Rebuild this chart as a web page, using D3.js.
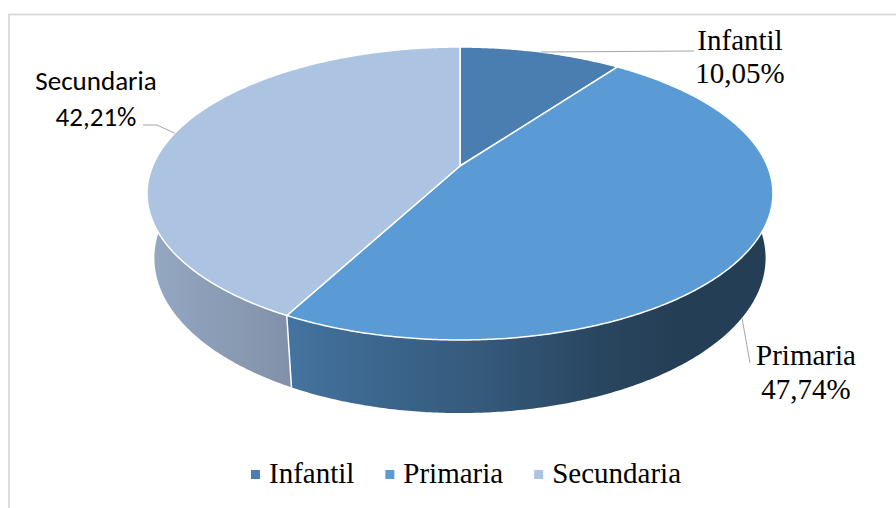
<!DOCTYPE html>
<html>
<head>
<meta charset="utf-8">
<script src="https://cdn.jsdelivr.net/npm/d3@7"></script>
<style>
  html, body { margin: 0; padding: 0; background: #fff; }
  svg { display: block; }
  .serif { font-family: 'Liberation Serif', 'Times New Roman', serif; }
  .sans { font-family: Carlito, Calibri, Lato, 'Liberation Sans', sans-serif; }
</style>
</head>
<body>
<svg id="chart" width="896" height="508"></svg>
<script>
const categories = ['Infantil', 'Primaria', 'Secundaria'];
const values = [10.05, 47.74, 42.21];
const valueLabels = ['10,05%', '47,74%', '42,21%'];
const colors = ['#4a7eb0', '#5b9bd5', '#adc3e2'];

const width = 896;
const height = 508;

// perspective pie geometry (camera distance normalised to 1)
const cx = 460, cy = 166;
const F = 1454;         // focal length in px
const r = 0.2114;       // pie radius / camera distance
const h = 0.0504;       // pie thickness / camera distance
const tilt = 27.37 * Math.PI / 180;
const sinT = Math.sin(tilt), cosT = Math.cos(tilt);

const project = (theta, rf, bottom) => {
  const X = r * rf * Math.sin(theta);
  const Z = -r * rf * Math.cos(theta);
  const Y = bottom ? -h : 0;
  const depth = 1 - Y * sinT - Z * cosT;
  return [cx + F * X / depth, cy - F * (Y * cosT - Z * sinT) / depth];
};

const steps = (a0, a1) => {
  const n = Math.max(2, Math.ceil(Math.abs(a1 - a0) / (Math.PI / 360)));
  return d3.range(n + 1).map(i => a0 + (a1 - a0) * i / n);
};
const arcPoints = (a0, a1, bottom) => steps(a0, a1).map(t => project(t, 1, bottom));

const svg = d3.select('#chart');
const defs = svg.append('defs');
const line = d3.line();

// chart border (only top/left visible in the crop)
svg.append('rect')
  .attr('x', 9).attr('y', 14.5)
  .attr('width', 1000).attr('height', 1000)
  .attr('fill', 'none')
  .attr('stroke', '#d9d9d9')
  .attr('stroke-width', 1.8);

const pie = d3.pie().sort(null).value(d => d);
const arcs = pie(values);
const color = d3.scaleOrdinal().domain(categories).range(colors);

// side shading: lighter on the left, darker to the right
const shade = [[0, 0.86], [0.22, 0.75], [0.37, 0.66], [0.53, 0.58], [0.72, 0.45], [0.85, 0.40], [1, 0.40]];
const xLeft = project(-Math.PI / 2 - 0.19, 1, false)[0];
const xRight = project(Math.PI / 2 + 0.19, 1, false)[0];

categories.forEach((c, i) => {
  const base = d3.rgb(color(c));
  const g = defs.append('linearGradient')
    .attr('id', 'side' + i)
    .attr('gradientUnits', 'userSpaceOnUse')
    .attr('x1', xLeft).attr('x2', xRight)
    .attr('y1', 0).attr('y2', 0);
  shade.forEach(([t, m]) => {
    g.append('stop')
      .attr('offset', t)
      .attr('stop-color', d3.rgb(base.r * m, base.g * m, base.b * m).formatHex());
  });
});

const pieGroup = svg.append('g');

// outer walls: swept quads so the silhouette follows the tangent between rims
const wallLo = Math.PI / 2 - 0.3, wallHi = 3 * Math.PI / 2 + 0.3;
arcs.forEach((a, i) => {
  const a0 = Math.max(a.startAngle, wallLo);
  const a1 = Math.min(a.endAngle, wallHi);
  if (a1 <= a0) return;
  const ts = steps(a0, a1);
  let d = '';
  for (let k = 0; k < ts.length - 1; k++) {
    const q = [
      project(ts[k], 1, false), project(ts[k + 1], 1, false),
      project(ts[k + 1], 1, true), project(ts[k], 1, true)
    ];
    d += line(q) + 'Z';
  }
  pieGroup.append('path')
    .attr('d', d)
    .attr('fill', `url(#side${i})`)
    .attr('fill-rule', 'nonzero');
});

// white seams on the wall at slice boundaries
arcs.forEach(a => {
  const t = a.startAngle;
  if (t > Math.PI / 2 && t < 3 * Math.PI / 2) {
    pieGroup.append('path')
      .attr('d', line([project(t, 1, false), project(t, 1, true)]))
      .attr('stroke', '#fff')
      .attr('stroke-width', 1.5);
  }
});

// top faces
arcs.forEach((a, i) => {
  const pts = [project(0, 0, false)].concat(arcPoints(a.startAngle, a.endAngle, false));
  pieGroup.append('path')
    .attr('d', line(pts) + 'Z')
    .attr('fill', color(categories[i]))
    .attr('stroke', '#fff')
    .attr('stroke-width', 1.5)
    .attr('stroke-linejoin', 'round');
});

// data labels with leader lines
const labelPos = [[740, 50], [806, 365], [96, 90]];
const labelFonts = [
  { cls: 'serif', size: 29, gap: 33 },
  { cls: 'serif', size: 29, gap: 34 },
  { cls: 'sans', size: 27, gap: 36 }
];
const leaderEnds = [
  [[694, 51]],
  [[750, 363]],
  [[157, 125], [143, 125]]
];

arcs.forEach((a, i) => {
  const mid = (a.startAngle + a.endAngle) / 2;
  const anchor = project(mid, 1, i === 1);
  svg.append('path')
    .attr('d', line([anchor].concat(leaderEnds[i])))
    .attr('fill', 'none')
    .attr('stroke', '#a6a6a6')
    .attr('stroke-width', 1);

  const f = labelFonts[i];
  const t = svg.append('text')
    .attr('class', f.cls)
    .attr('text-anchor', 'middle')
    .style('font-size', f.size + 'px')
    .attr('fill', '#000');
  t.append('tspan').attr('x', labelPos[i][0]).attr('y', labelPos[i][1]).text(categories[i]);
  t.append('tspan').attr('x', labelPos[i][0]).attr('y', labelPos[i][1] + f.gap).text(valueLabels[i]);
});

// legend
const legend = svg.append('g').attr('class', 'legend');
const legendY = 483;
const sw = 9, swGap = 9, itemGap = 31;
const items = categories.map(c => {
  const g = legend.append('g');
  g.append('rect')
    .attr('width', sw).attr('height', sw)
    .attr('y', legendY - 13)
    .attr('fill', color(c));
  const txt = g.append('text')
    .attr('class', 'serif')
    .attr('x', sw + swGap)
    .attr('y', legendY)
    .style('font-size', '29px')
    .attr('fill', '#000')
    .text(c);
  return { g, w: sw + swGap + txt.node().getComputedTextLength() };
});
const total = d3.sum(items, d => d.w) + itemGap * (items.length - 1);
let lx = 466 - total / 2;
items.forEach(d => {
  d.g.attr('transform', `translate(${lx},0)`);
  lx += d.w + itemGap;
});
</script>
</body>
</html>
